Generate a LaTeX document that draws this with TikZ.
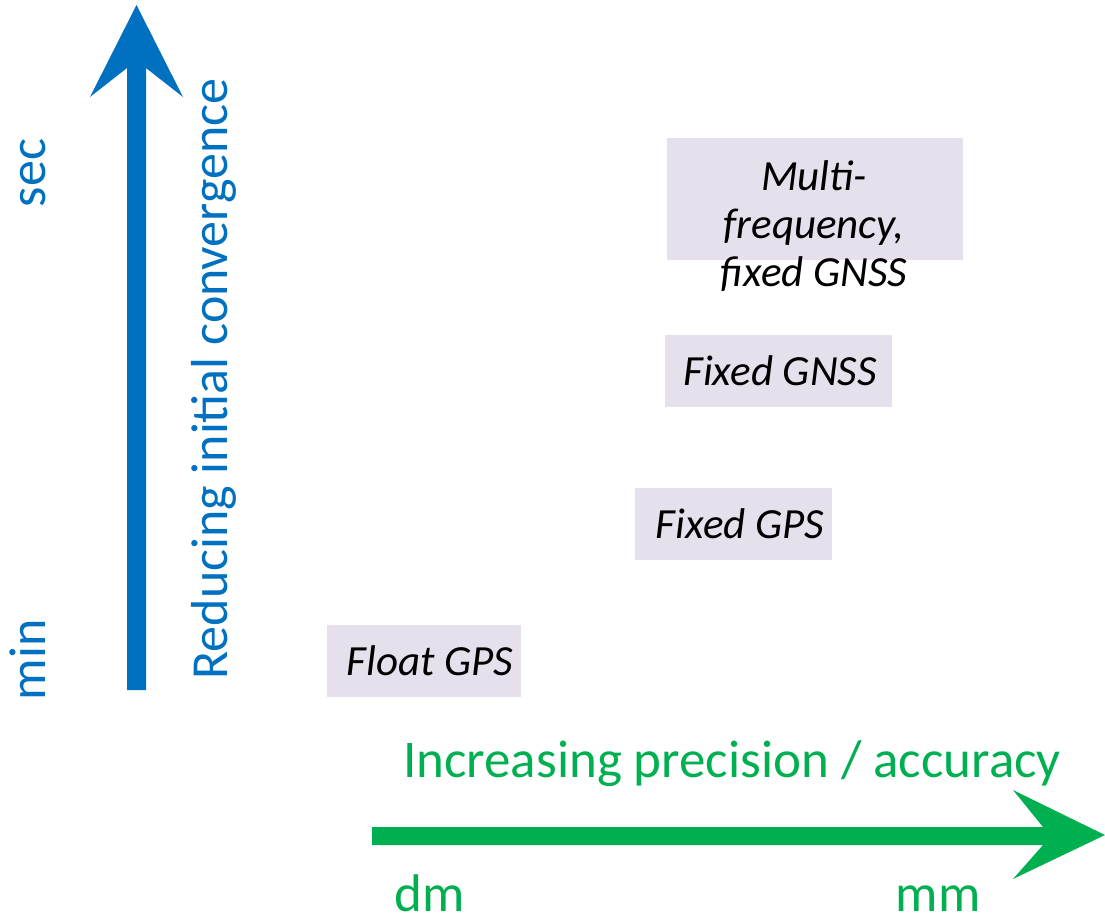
\documentclass[tikz,border=0pt]{standalone}
\usepackage{fontspec}
\setmainfont{Carlito}
\definecolor{axblue}{HTML}{0070C0}
\definecolor{axgreen}{HTML}{00B050}
\definecolor{boxfill}{HTML}{E6E0EC}
\begin{document}
\begin{tikzpicture}[x=1pt,y=-1pt,
  lbl/.style={inner sep=0pt, anchor=base, font=\fontsize{43}{48}\selectfont\itshape, text=black},
  box/.style={fill=boxfill, draw=none},
  bluetext/.style={text=axblue, inner sep=0pt, anchor=base, rotate=90, font=\fontsize{52}{60}\selectfont},
  greentext/.style={text=axgreen, inner sep=0pt, anchor=base, font=\fontsize{53}{60}\selectfont}]
\useasboundingbox (0,0) rectangle (1105,919);
% blue vertical arrow
\fill[axblue] (127,690) -- (127,68) -- (90,97) -- (136.5,5) -- (183,97) -- (146,68) -- (146,690) -- cycle;
% green horizontal arrow
\fill[axgreen] (372,827) -- (1043,827) -- (1013,790) -- (1105,835) -- (1013,879) -- (1043,845) -- (372,845) -- cycle;
% boxes
\fill[box] (327,625) rectangle (521,697);
\fill[box] (635,488) rectangle (832,560);
\fill[box] (665,335) rectangle (892,407);
\fill[box] (667,138) rectangle (963,260);
% box labels
\node[lbl] (float) at (430,675) {Float GPS};
\node[lbl] (fgps) at (740,538) {Fixed GPS};
\node[lbl] (fgnss) at (780,385) {Fixed GNSS};
\node[lbl, anchor=center, align=center] (multi) at (814,226) {Multi-\\frequency,\\fixed GNSS};
% axis labels
\node[bluetext] (sec) at (45,173) {sec};
\node[bluetext] (min) at (45,660) {min};
\node[bluetext] (conv) at (227,379) {Reducing initial convergence};
\node[greentext] (prec) at (732,777) {Increasing precision / accuracy};
\node[greentext] (dm) at (430,911) {dm};
\node[greentext] (mm) at (938,911) {mm};
\end{tikzpicture}
\end{document}
